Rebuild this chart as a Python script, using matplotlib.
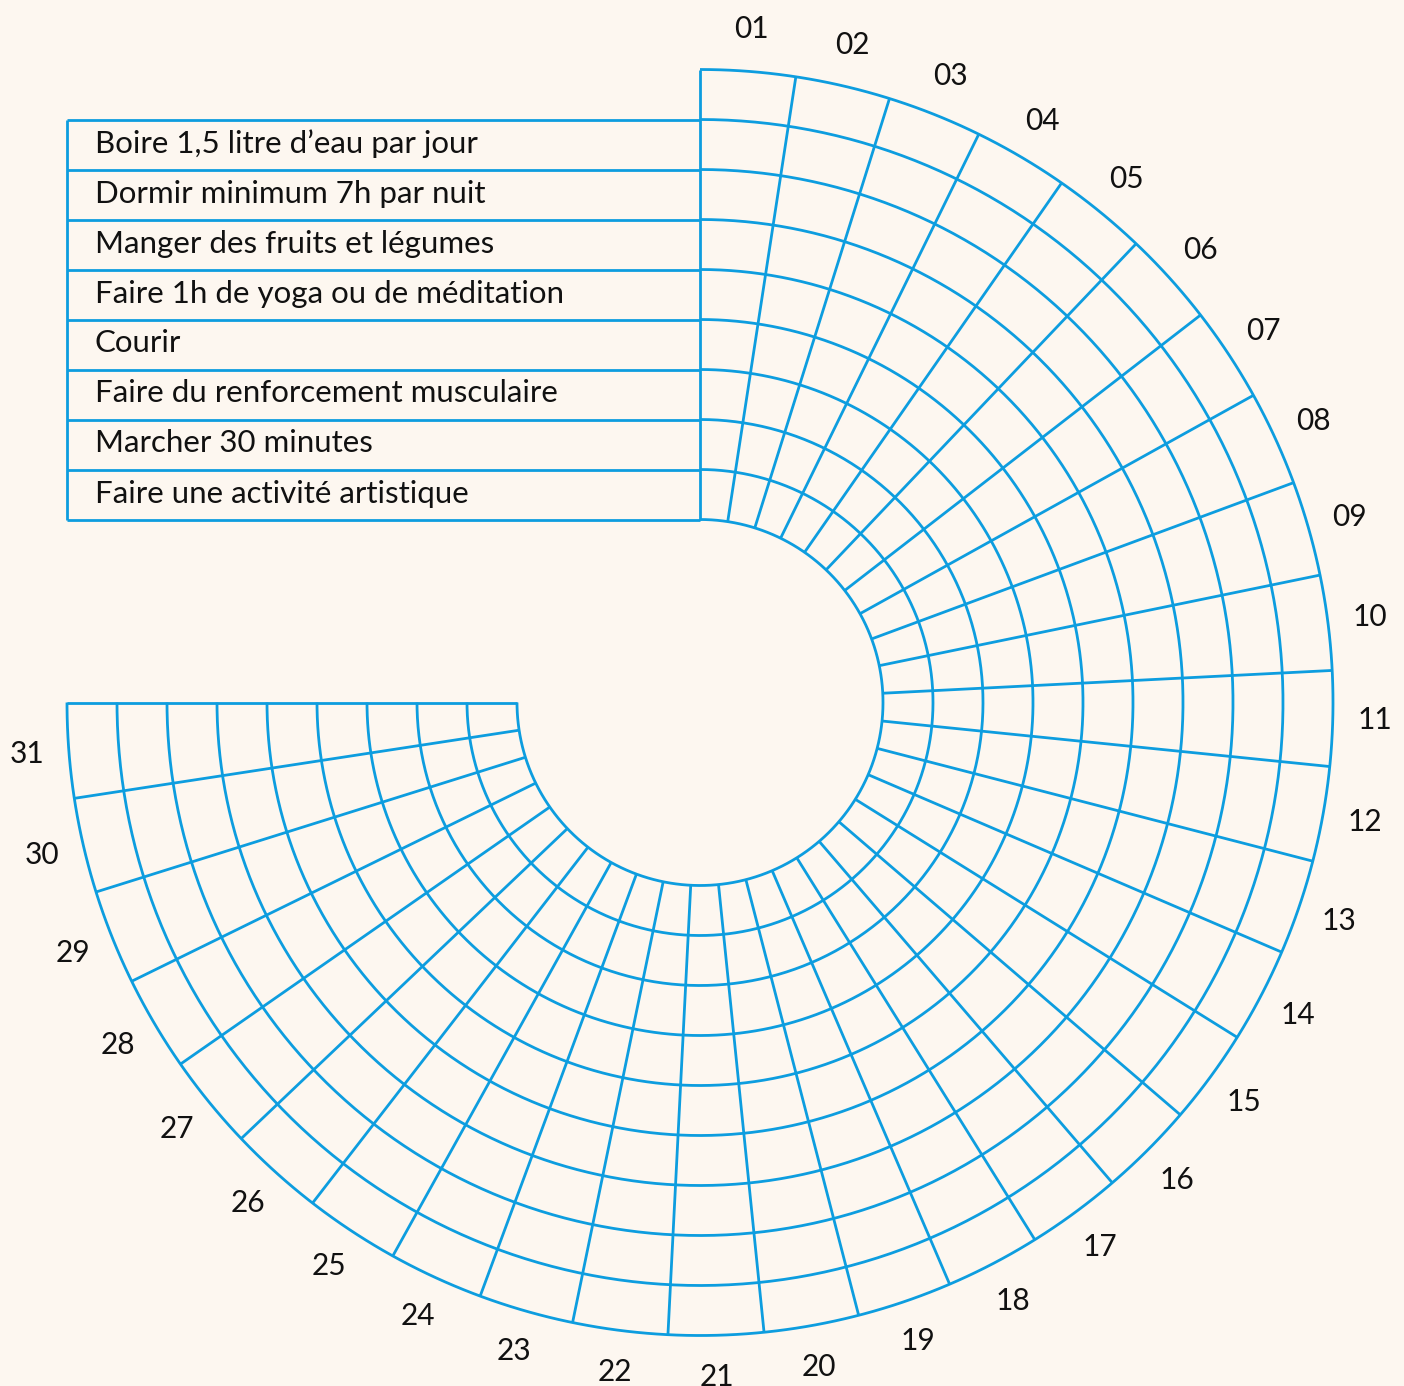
import numpy as np
import matplotlib
matplotlib.use("Agg")
import matplotlib.pyplot as plt

habits = ["Boire 1,5 litre d’eau par jour",
          "Dormir minimum 7h par nuit",
          "Manger des fruits et légumes",
          "Faire 1h de yoga ou de méditation",
          "Courir",
          "Faire du renforcement musculaire",
          "Marcher 30 minutes",
          "Faire une activité artistique"]
days = [f"{d:02d}" for d in range(1, 32)]

BLUE = "#0d9ddf"
BG = "#fdf7f0"
R0 = 183      # inner radius (px)
STEP = 50     # ring width (px)
SPAN = 270    # degrees covered by the 31 days

n_bands = len(habits) + 1
radii = R0 + STEP * np.arange(n_bands + 1)
r_out = radii[-1]
dstep = SPAN / len(days)

fig = plt.figure(figsize=(14.04, 13.86), dpi=100, facecolor=BG)
ax = fig.add_axes([0, 0, 1, 1])
ax.set_facecolor(BG)
ax.set_xlim(-700, 704)
ax.set_ylim(702.5 - 1386, 702.5)
ax.set_aspect("equal")
ax.axis("off")


def xy(r, deg):
    t = np.radians(deg)
    return r * np.sin(t), r * np.cos(t)


# rings (clockwise from north)
th = np.linspace(0, SPAN, 600)
for r in radii:
    x, y = xy(r, th)
    ax.plot(x, y, color=BLUE, lw=2, solid_capstyle="butt")

# spokes
for i in range(len(days) + 1):
    x0, y0 = xy(R0, i * dstep)
    x1, y1 = xy(r_out, i * dstep)
    ax.plot([x0, x1], [y0, y1], color=BLUE, lw=2, solid_capstyle="butt")

# day labels
for i, d in enumerate(days):
    x, y = xy(r_out + 42, (i + 0.5) * dstep)
    ax.text(x, y, d, ha="center", va="center", fontsize=21.5,
            family="Lato", color="#111111")

# habit table on the left
left = -r_out
for r in radii[:-1]:
    ax.plot([left, 0], [r, r], color=BLUE, lw=2, solid_capstyle="butt")
ax.plot([left, left], [radii[0], radii[-2]], color=BLUE, lw=2,
        solid_capstyle="butt")
for k, h in enumerate(habits):
    yc = radii[len(habits) - 1 - k] + STEP / 2
    ax.text(left + 28, yc + 1, h, ha="left", va="center", fontsize=22.5,
            family="Lato", color="#111111")

fig.savefig("out.png", dpi=100, facecolor=BG)
